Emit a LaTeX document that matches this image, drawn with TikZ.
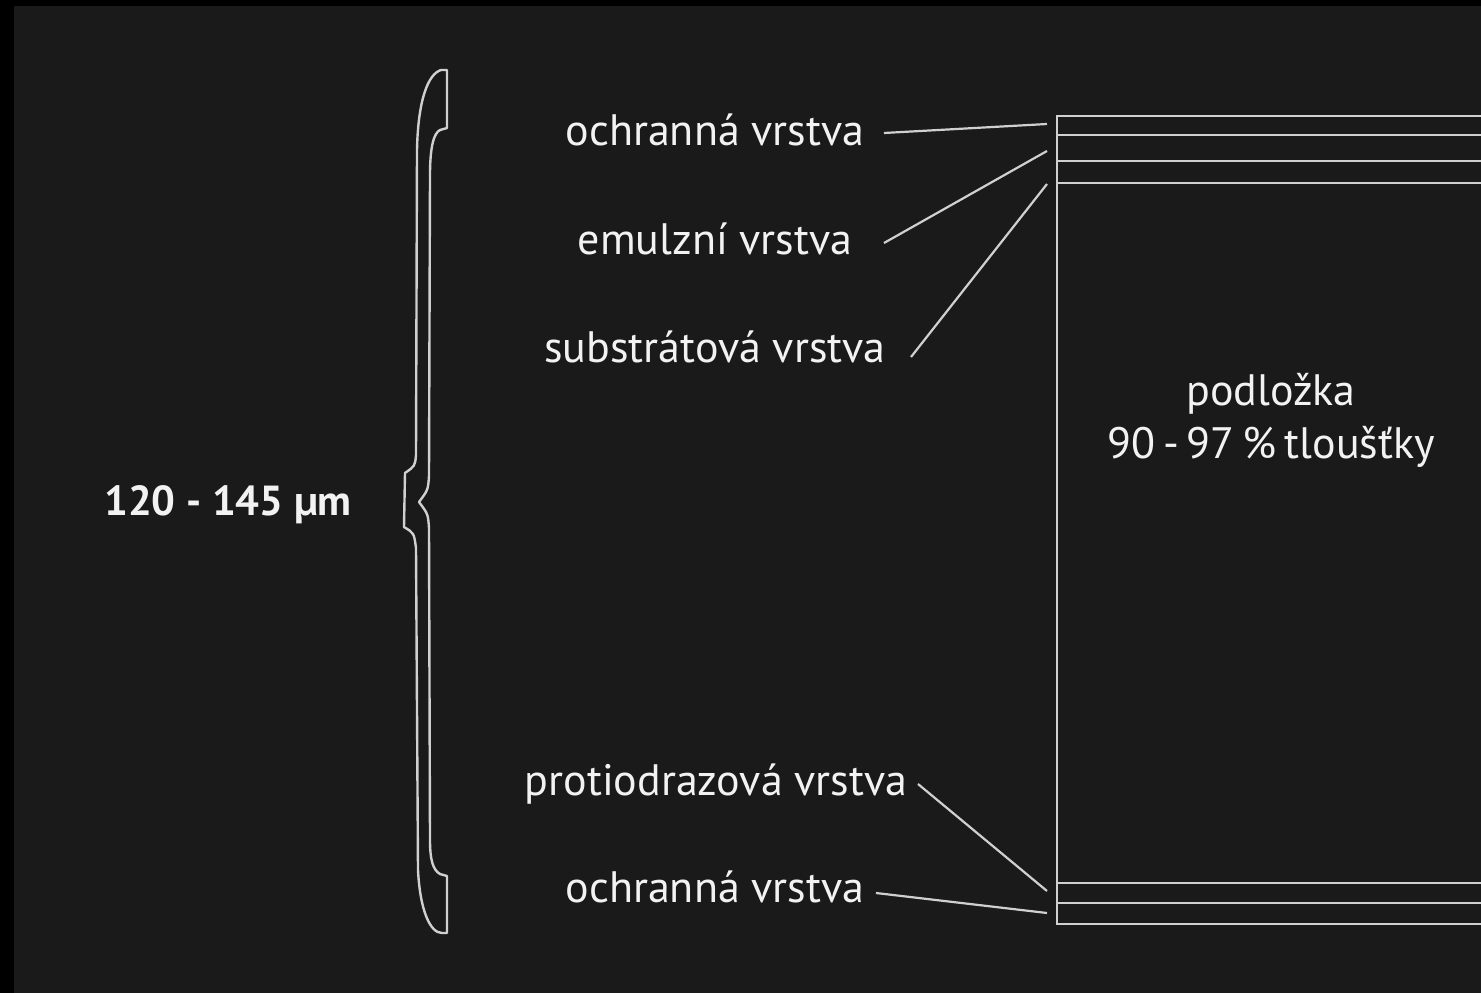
\documentclass[tikz,border=0pt]{standalone}
\usepackage{fontspec}
\setmainfont{PT Sans}
\definecolor{bg}{HTML}{1A1A1A}
\definecolor{ln}{HTML}{D0D0D0}
\definecolor{tx}{HTML}{F2F2F2}
\begin{document}
\begin{tikzpicture}[x=1pt,y=-1pt,
  lbl/.style={anchor=base,text=tx,inner sep=0pt,font=\fontsize{44}{52}\selectfont},
  lay/.style={draw=ln,line width=2.5pt},
  con/.style={draw=ln,line width=2.2pt}]
\fill[black] (0,0) rectangle (1481,993);
\fill[bg] (14,6) rectangle (1481,993);
\useasboundingbox (0,0) rectangle (1481,993);
% layers box
\draw[lay] (1482,116) -- (1057,116) -- (1057,924) -- (1482,924);
\draw[lay] (1057,135) -- (1482,135);
\draw[lay] (1057,161) -- (1482,161);
\draw[lay] (1057,183) -- (1482,183);
\draw[lay] (1057,883) -- (1482,883);
\draw[lay] (1057,903) -- (1482,903);
% brace outline
\draw[ln,line width=2.4pt,line join=round]
  (447,70) -- (441,70) .. controls (428,74) and (418,100) .. (417,150)
  -- (416,455) .. controls (415,466) .. (405,473) -- (404,527)
  .. controls (414,533) .. (416,548) -- (418,870)
  .. controls (420,910) and (430,933) .. (442,933) -- (447,933) -- (447,876)
  -- (440,874) .. controls (433,870) and (430,860) .. (430,840)
  -- (429,528) .. controls (428,514) .. (419,502) .. controls (428,490) .. (429,476)
  -- (430,175) .. controls (430,146) and (434,133) .. (440,130) -- (447,128) -- cycle;
% labels
\node[lbl] (l1) at (715,145) {ochranná vrstva};
\node[lbl] (l2) at (715,254) {emulzní vrstva};
\node[lbl] (l3) at (715,362) {substrátová vrstva};
\node[lbl] (l4) at (716,795) {protiodrazová vrstva};
\node[lbl] (l5) at (715,902) {ochranná vrstva};
\node[lbl,font=\fontsize{42}{50}\selectfont\bfseries] (dim) at (228,515) {120 - 145 µm};
\node[lbl] (p1) at (1271,405) {podložka};
\node[lbl] (p2) at (1271,458) {90\hspace{0.18em}-\hspace{0.18em}97\hspace{0.18em}\%\hspace{0.18em}tloušťky};
% connector ends
\coordinate (s1) at (884,133); \coordinate (e1) at (1047,124);
\coordinate (s2) at (884,243); \coordinate (e2) at (1047,151);
\coordinate (s3) at (911,357); \coordinate (e3) at (1047,184);
\coordinate (s4) at (918,784); \coordinate (e4) at (1047,891);
\coordinate (s5) at (876,893); \coordinate (e5) at (1047,913);
\draw[con] (s1) -- (e1);
\draw[con] (s2) -- (e2);
\draw[con] (s3) -- (e3);
\draw[con] (s4) -- (e4);
\draw[con] (s5) -- (e5);
\end{tikzpicture}
\end{document}
